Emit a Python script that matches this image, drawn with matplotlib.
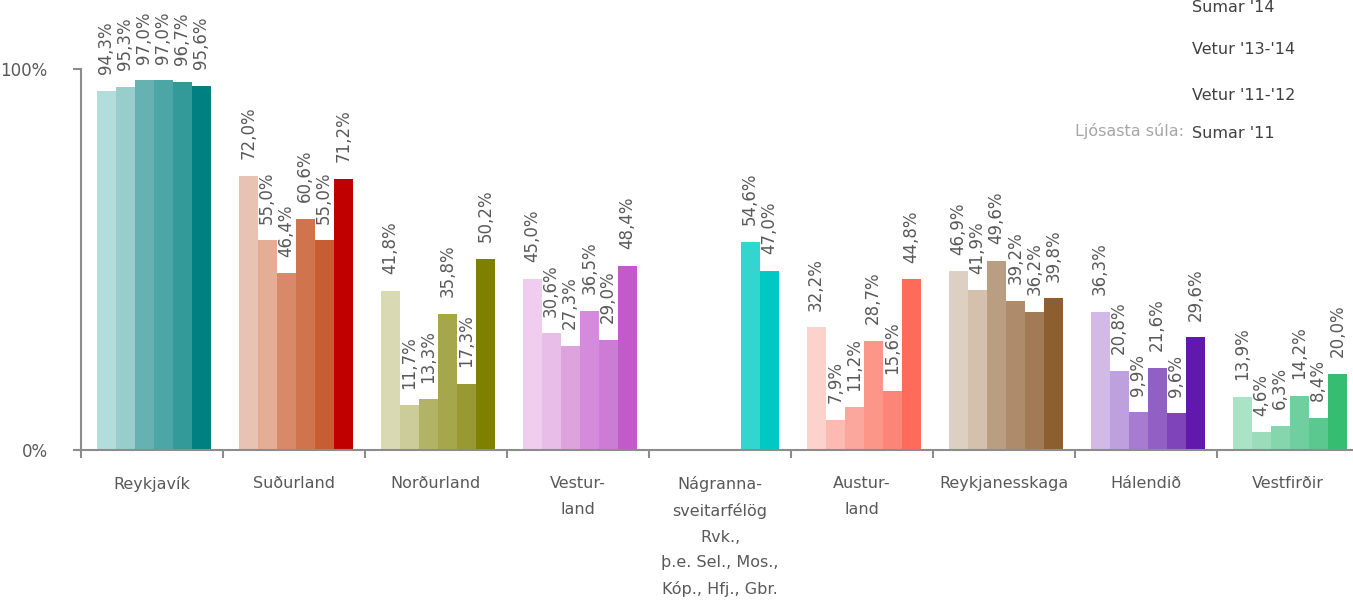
import numpy as np
import matplotlib
matplotlib.use('Agg')
import matplotlib.pyplot as plt

# region names (x categories)
regions = ['Reykjavík', 'Suðurland', 'Norðurland', 'Vestur-\nland',
           'Nágranna-\nsveitarfélög\nRvk.,\nþ.e. Sel., Mos.,\nKóp., Hfj., Gbr.',
           'Austur-\nland', 'Reykjanesskaga', 'Hálendið', 'Vestfirðir']

# six survey periods per region (lightest bar first), in %
reykjavik = [94.3, 95.3, 97.0, 97.0, 96.7, 95.6]
sudurland = [72.0, 55.0, 46.4, 60.6, 55.0, 71.2]
nordurland = [41.8, 11.7, 13.3, 35.8, 17.3, 50.2]
vesturland = [45.0, 30.6, 27.3, 36.5, 29.0, 48.4]
nagranna = [np.nan, np.nan, np.nan, np.nan, 54.6, 47.0]
austurland = [32.2, 7.9, 11.2, 28.7, 15.6, 44.8]
reykjanes = [46.9, 41.9, 49.6, 39.2, 36.2, 39.8]
halendid = [36.3, 20.8, 9.9, 21.6, 9.6, 29.6]
vestfirdir = [13.9, 4.6, 6.3, 14.2, 8.4, 20.0]

# legend text (no markers in the original)
legend_labels = ["Sumar '14", "Vetur '13-'14", "Vetur '11-'12", "Sumar '11"]

colors = [
    ['#B3DDDC', '#99CDCC', '#66B2B2', '#4CA6A5', '#339999', '#008080'],
    ['#E8C3B4', '#E3AE95', '#D7896A', '#D0744D', '#C65D33', '#C00000'],
    ['#D9D9B3', '#CCCC99', '#B3B366', '#A6A64D', '#999933', '#808000'],
    ['#F0CDEE', '#E8BEE8', '#DDA3DD', '#D48BDB', '#CC7CD4', '#C35AC9'],
    ['#33D6CF', '#33D6CF', '#33D6CF', '#33D6CF', '#33D6CF', '#00C8C3'],
    ['#FDD1CC', '#FCBAB2', '#FCA79D', '#FB9689', '#FB8677', '#FF6B5B'],
    ['#DDD0C3', '#D3C1AD', '#BA9E82', '#AD8B6B', '#A27B56', '#8C5E30'],
    ['#D1BAE6', '#BFA0DE', '#A77BD0', '#9160C5', '#7F44BA', '#6019AC'],
    ['#ABE3C6', '#9BDDBA', '#86D6AD', '#6FCF9E', '#5AC88F', '#35BE72'],
]

data = [reykjavik, sudurland, nordurland, vesturland, nagranna,
        austurland, reykjanes, halendid, vestfirdir]

fig = plt.figure(figsize=(13.53, 6.03), dpi=100)
ax = fig.add_axes([81 / 1353, 1 - 450 / 603, 1278 / 1353, 381 / 603])

grey = '#8C8C8C'
txt = '#595959'
bw = 0.134
start = 0.11

for i, vals in enumerate(data):
    for j, v in enumerate(vals):
        if np.isnan(v):
            continue
        x = i + start + j * bw
        ax.bar(x, v / 100, width=bw, align='edge', color=colors[i][j], linewidth=0)
        lbl = ('%.1f%%' % v).replace('.', ',')
        ax.annotate(lbl, (x + bw / 2, v / 100), xytext=(0, 12), textcoords='offset points',
                    rotation=90, ha='center', va='bottom', fontsize=12, color=txt,
                    annotation_clip=False)

ax.set_xlim(0, 9)
ax.set_ylim(0, 1)
ax.set_yticks([0, 1])
ax.set_yticklabels(['0%', '100%'], fontsize=12, color=txt)
ax.set_xticks(np.arange(9) + 0.5)
ax.set_xticklabels(regions, fontsize=11.5, color=txt, linespacing=1.85, va='top')
ax.set_xticks(np.arange(10), minor=True)
ax.tick_params(axis='x', which='major', length=0, pad=19)
ax.tick_params(axis='x', which='minor', length=6, width=1.5, color=grey, direction='out')
ax.tick_params(axis='y', length=6, width=1.5, color=grey, pad=18)
for s in ['top', 'right']:
    ax.spines[s].set_visible(False)
for s in ['left', 'bottom']:
    ax.spines[s].set_color(grey)
    ax.spines[s].set_linewidth(1.5)

# legend texts at top right
ys = [8, 50, 95, 134]
for lab, y in zip(legend_labels, ys):
    fig.text(1192 / 1353, 1 - y / 603, lab, ha='left', va='center', fontsize=11.5, color='#404040')
fig.text(1184 / 1353, 1 - 131 / 603, 'Ljósasta súla:', ha='right', va='center',
         fontsize=11.5, color='#A6A6A6')

fig.savefig('out.png', dpi=100)
